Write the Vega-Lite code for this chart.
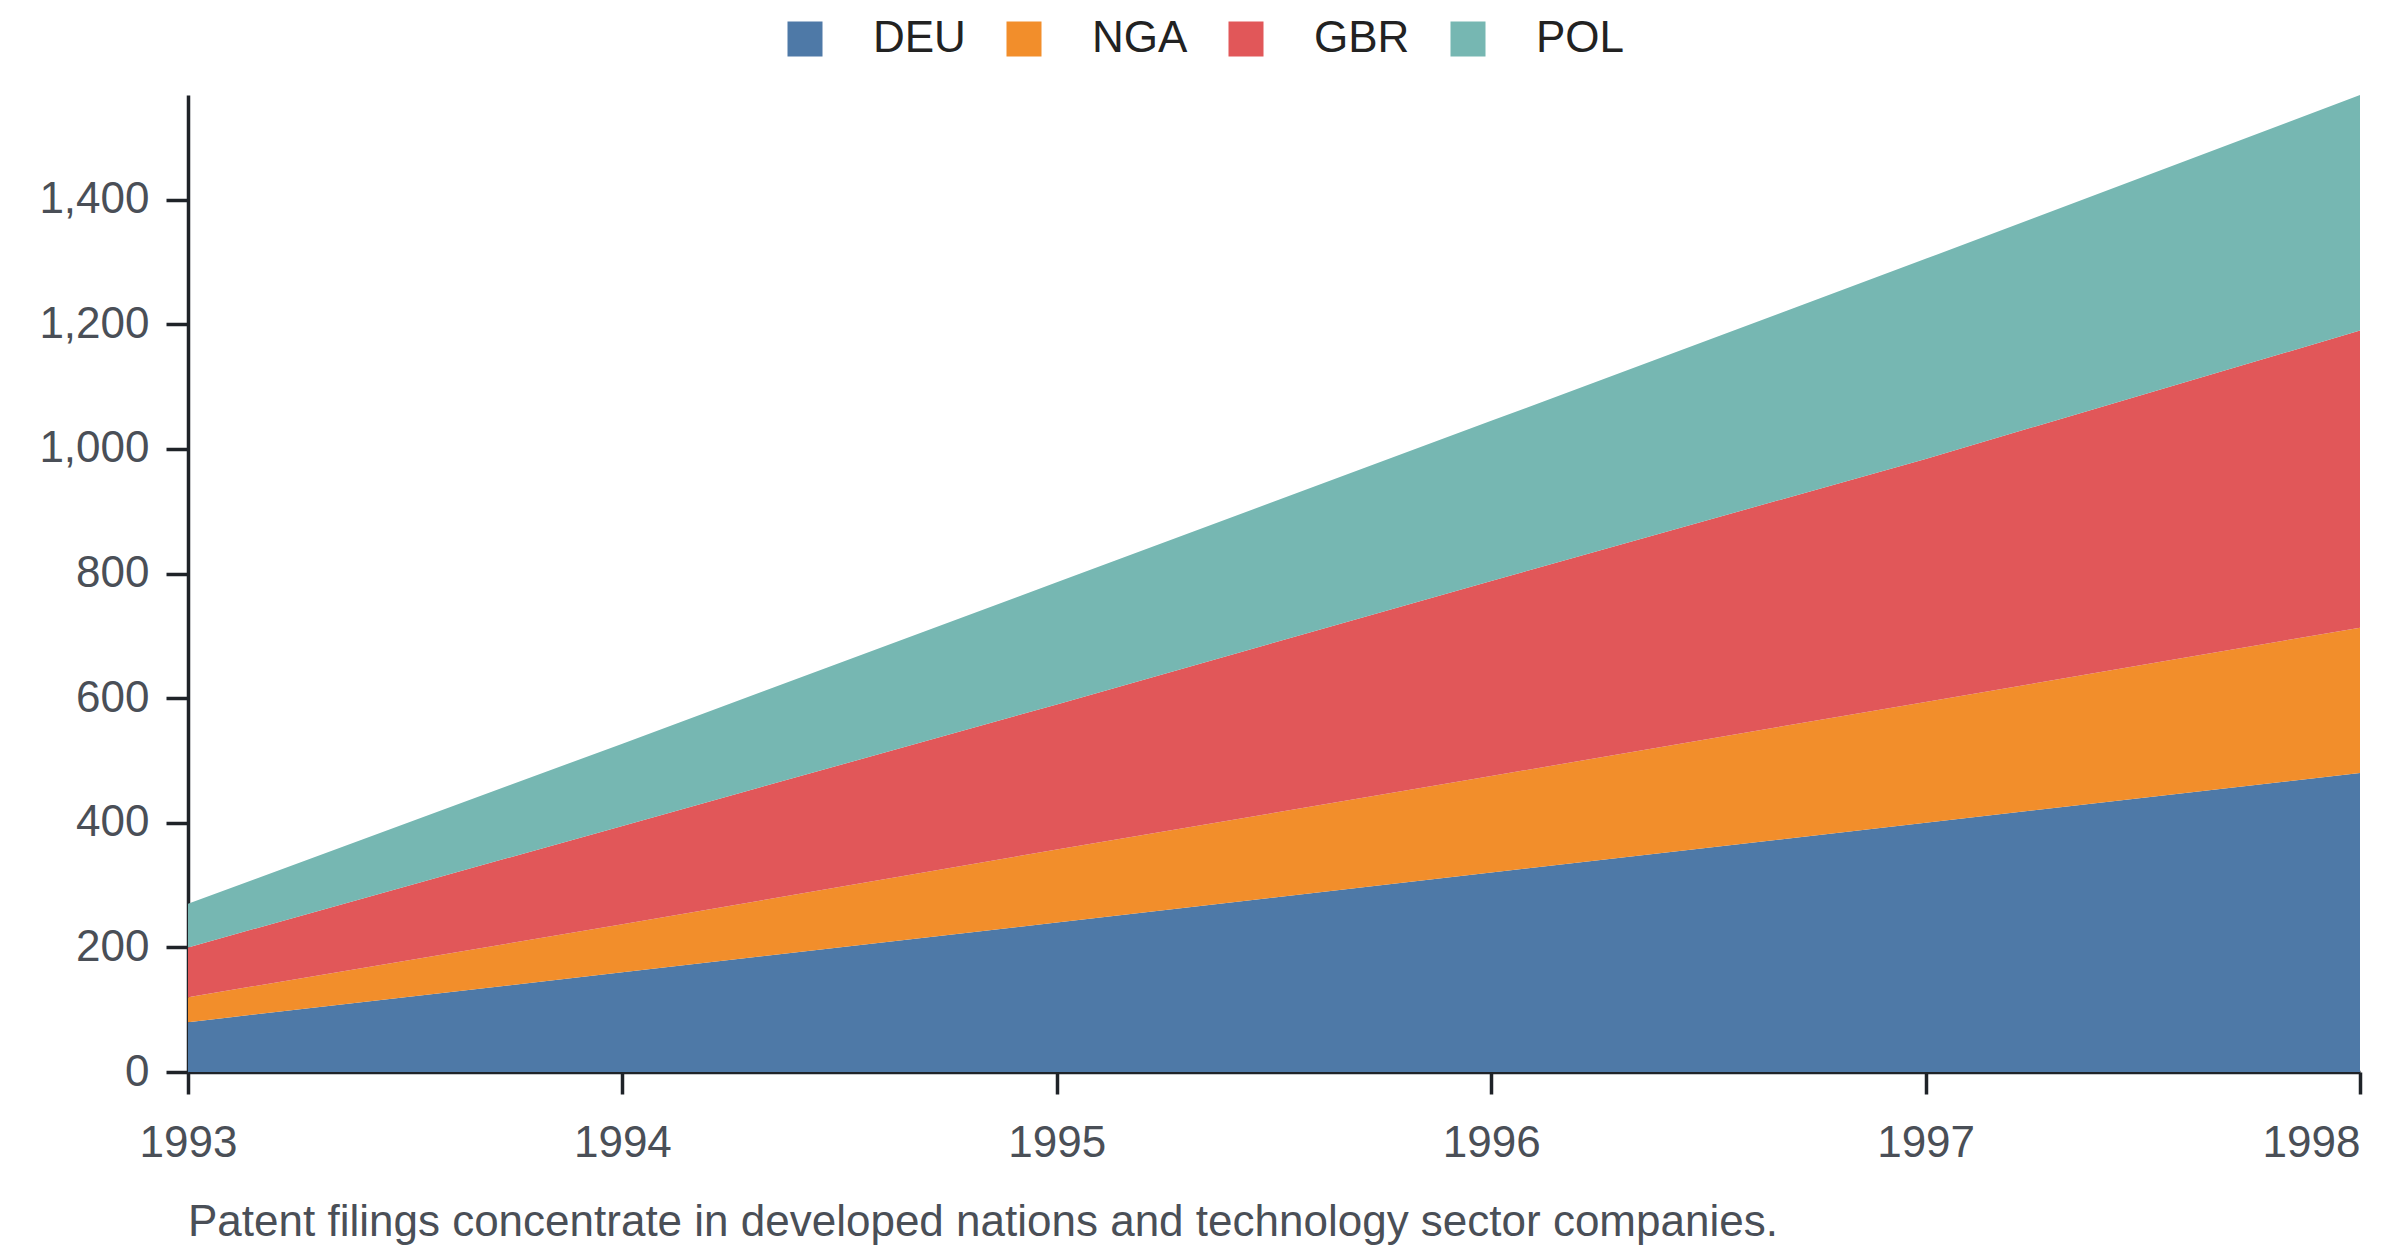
{
  "$schema": "https://vega.github.io/schema/vega-lite/v6.json",
  "width": 2172,
  "height": 977,
  "autosize": {"type": "none"},
  "padding": {"left": 188, "top": 95, "right": 40, "bottom": 184},
  "title": {
    "text": "Patent filings concentrate in developed nations and technology sector companies.",
    "orient": "bottom",
    "anchor": "start",
    "frame": "group",
    "fontSize": 44,
    "fontWeight": "normal",
    "font": "Liberation Sans",
    "color": "#4a4f57",
    "offset": 36
  },
  "data": {
    "values": [
      {"year": 1993, "country": "DEU", "filings": 80},
      {"year": 1994, "country": "DEU", "filings": 160},
      {"year": 1995, "country": "DEU", "filings": 240},
      {"year": 1996, "country": "DEU", "filings": 320},
      {"year": 1997, "country": "DEU", "filings": 400},
      {"year": 1998, "country": "DEU", "filings": 480},
      {"year": 1993, "country": "NGA", "filings": 40},
      {"year": 1994, "country": "NGA", "filings": 77},
      {"year": 1995, "country": "NGA", "filings": 117},
      {"year": 1996, "country": "NGA", "filings": 155},
      {"year": 1997, "country": "NGA", "filings": 194},
      {"year": 1998, "country": "NGA", "filings": 233},
      {"year": 1993, "country": "GBR", "filings": 80},
      {"year": 1994, "country": "GBR", "filings": 158},
      {"year": 1995, "country": "GBR", "filings": 233},
      {"year": 1996, "country": "GBR", "filings": 313},
      {"year": 1997, "country": "GBR", "filings": 390},
      {"year": 1998, "country": "GBR", "filings": 477},
      {"year": 1993, "country": "POL", "filings": 70},
      {"year": 1994, "country": "POL", "filings": 132},
      {"year": 1995, "country": "POL", "filings": 196},
      {"year": 1996, "country": "POL", "filings": 257},
      {"year": 1997, "country": "POL", "filings": 321},
      {"year": 1998, "country": "POL", "filings": 378}
    ]
  },
  "transform": [
    {"calculate": "indexof(['DEU', 'NGA', 'GBR', 'POL'], datum.country)", "as": "stack_order"}
  ],
  "mark": {"type": "area", "opacity": 1},
  "encoding": {
    "x": {
      "field": "year",
      "type": "quantitative",
      "scale": {"domain": [1993, 1998], "nice": false, "zero": false},
      "axis": {
        "values": [1993, 1994, 1995, 1996, 1997, 1998],
        "format": "d",
        "title": null,
        "grid": false,
        "labelAlign": {"condition": {"test": "datum.value == 1998", "value": "right"}, "value": "center"},
        "labelPadding": 27
      }
    },
    "y": {
      "field": "filings",
      "type": "quantitative",
      "stack": "zero",
      "scale": {"nice": false},
      "axis": {
        "values": [0, 200, 400, 600, 800, 1000, 1200, 1400],
        "format": ",d",
        "title": null,
        "grid": false,
        "labelPadding": 17
      }
    },
    "order": {"field": "stack_order", "type": "quantitative", "sort": "ascending"},
    "color": {
      "field": "country",
      "type": "nominal",
      "sort": ["DEU", "NGA", "GBR", "POL"],
      "scale": {
        "domain": ["DEU", "NGA", "GBR", "POL"],
        "range": ["#4e79a7", "#f28e2b", "#e15759", "#76b7b2"]
      },
      "legend": {
        "title": null,
        "orient": "none",
        "direction": "horizontal",
        "legendX": 595,
        "legendY": -78,
        "symbolType": "square",
        "symbolSize": 1225,
        "symbolStrokeWidth": 0,
        "symbolOpacity": 1,
        "labelOffset": 46,
        "columnPadding": 36,
        "labelFontSize": 44,
        "labelColor": "#222222",
        "labelFont": "Liberation Sans"
      }
    }
  },
  "config": {
    "view": {"stroke": null},
    "axis": {
      "labelFont": "Liberation Sans",
      "labelFontSize": 44,
      "labelColor": "#4a4f57",
      "domainColor": "#1f2328",
      "domainWidth": 3.5,
      "tickColor": "#1f2328",
      "tickWidth": 3.5,
      "tickSize": 22
    }
  }
}
